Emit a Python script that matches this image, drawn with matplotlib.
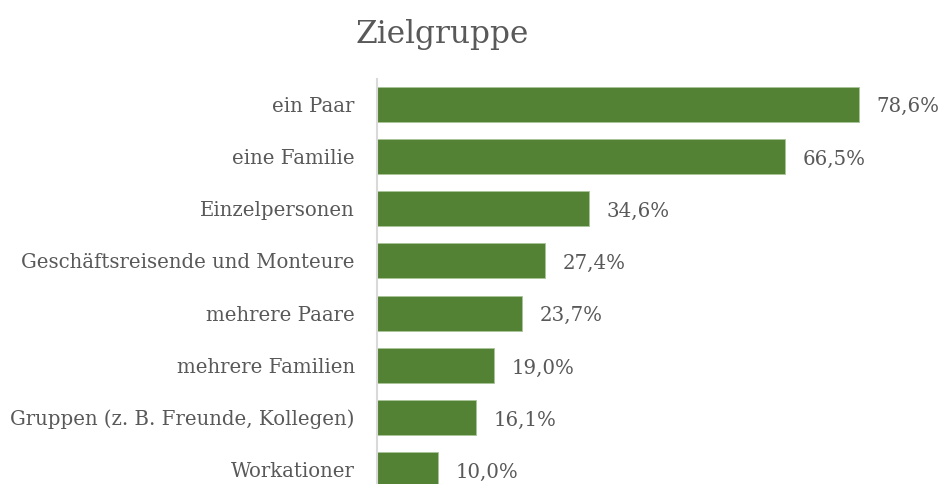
import matplotlib.pyplot as plt

plt.rcParams['font.family'] = ['DejaVu Serif']

# Daten
kategorien = ['ein Paar', 'eine Familie', 'Einzelpersonen',
              'Geschäftsreisende und Monteure', 'mehrere Paare',
              'mehrere Familien', 'Gruppen (z. B. Freunde, Kollegen)',
              'Workationer']
werte = [78.6, 66.5, 34.6, 27.4, 23.7, 19.0, 16.1, 10.0]

gruen = '#548235'
textfarbe = '#595959'

fig = plt.figure(figsize=(9.43, 4.84), dpi=100)
ax = fig.add_axes([377 / 943, 0, 1 - 377 / 943, (484 - 79) / 484])

pos = list(range(len(kategorien)))
ax.barh(pos, werte, height=0.67, color=gruen, edgecolor='#a9c49a', linewidth=0.6)

ax.set_ylim(7.27, -0.48)
ax.set_xlim(0, 92.3)

ax.set_yticks(pos)
ax.set_yticklabels(kategorien, fontsize=14.2, color=textfarbe)
ax.tick_params(axis='y', length=0, pad=16)
ax.set_xticks([])

for s in ['top', 'right', 'bottom']:
    ax.spines[s].set_visible(False)
ax.spines['left'].set_color('#d9d9d9')
ax.spines['left'].set_linewidth(1.5)

for p, w in zip(pos, werte):
    ax.text(w + 2.9, p + 0.05, f'{w:.1f}%'.replace('.', ','), va='center', ha='left',
            fontsize=14.2, color=textfarbe)

fig.text(442 / 943, 1 - 34 / 484, 'Zielgruppe', ha='center', va='center',
         fontsize=22.5, color=textfarbe)

fig.savefig('out.png', dpi=100)
